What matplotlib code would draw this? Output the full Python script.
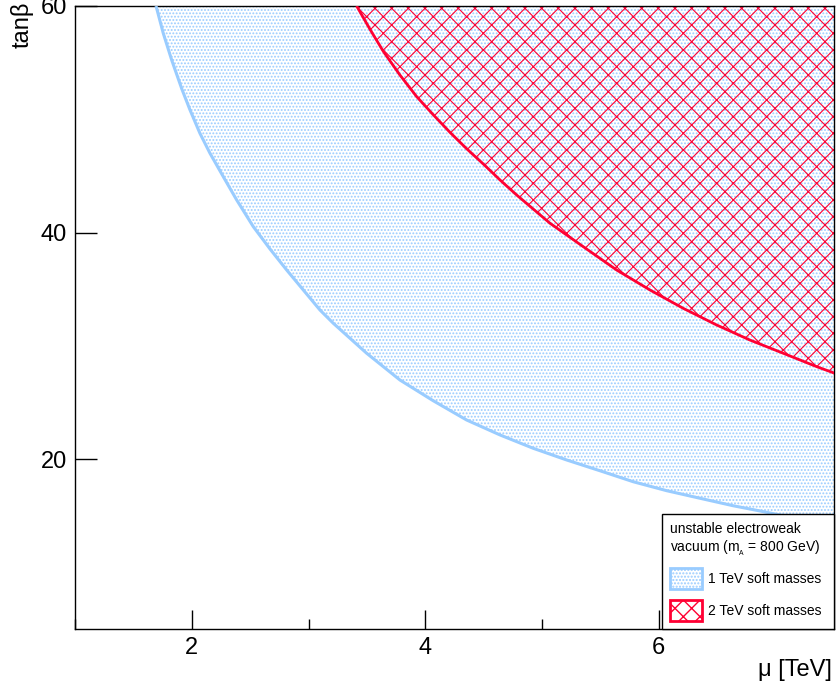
import matplotlib
matplotlib.use("Agg")
import matplotlib.pyplot as plt
from matplotlib.patches import Patch
from matplotlib.ticker import MultipleLocator, FixedLocator

plt.rcParams['font.family'] = ['Liberation Sans', 'DejaVu Sans']
plt.rcParams['mathtext.fontset'] = 'custom'
plt.rcParams['mathtext.rm'] = 'Liberation Sans'
plt.rcParams['mathtext.it'] = 'Liberation Sans:italic'

# Data
mu_1tev = [1.694, 1.756, 1.828, 1.914, 1.985, 2.070, 2.156, 2.270, 2.385, 2.527,
           2.670, 2.813, 2.955, 3.098, 3.212, 3.498, 3.783, 4.068, 4.354, 4.640,
           4.925, 5.211, 5.496, 5.781, 6.067, 6.353, 6.637, 6.866, 7.5]
tb_1tev = [60.0, 57.59, 55.23, 52.7, 50.82, 48.76, 47.0, 44.93, 42.87, 40.52,
           38.55, 36.69, 34.93, 33.16, 31.99, 29.34, 26.98, 25.15, 23.45, 22.13,
           20.95, 19.92, 18.97, 18.0, 17.21, 16.54, 15.88, 15.42, 14.1]
mu_2tev = [3.412, 3.526, 3.640, 3.783, 3.926, 4.068, 4.211, 4.354, 4.497, 4.640,
           4.783, 5.068, 5.353, 5.639, 5.924, 6.209, 6.495, 6.780, 7.066, 7.352, 7.508]
tb_2tev = [60.0, 57.95, 56.0, 53.9, 52.0, 50.4, 48.85, 47.4, 46.05, 44.64,
           43.31, 40.82, 38.75, 36.69, 34.93, 33.31, 31.84, 30.51, 29.34, 28.16, 27.57]

x_major = [2, 4, 6]
y_major = [20, 40, 60]
xlim = (1.0, 7.5)
ylim = (5, 60)

legend_title = "unstable electroweak\nvacuum (m$_{_\\mathrm{A}}$ = 800 GeV)"
labels = ["1 TeV soft masses", "2 TeV soft masses"]

blue = '#99ccff'
red = '#ff0033'

fig = plt.figure(figsize=(8.36, 6.91), dpi=100)
ax = fig.add_axes([75/836, 1-629/691, (834-75)/836, (629-6)/691])

with plt.rc_context({'hatch.linewidth': 0.9}):
    ax.fill_between(mu_1tev, tb_1tev, ylim[1], facecolor='none', edgecolor=blue,
                    hatch='.....', linewidth=0, zorder=1)
with plt.rc_context({'hatch.linewidth': 0.8}):
    ax.fill_between(mu_2tev, tb_2tev, ylim[1], facecolor='none', edgecolor=red,
                    hatch='xx', linewidth=0, zorder=2)
ax.plot(mu_1tev, tb_1tev, color=blue, lw=2.2, zorder=3, solid_capstyle='butt')
ax.plot(mu_2tev, tb_2tev, color=red, lw=2.0, zorder=3, solid_capstyle='butt')

ax.set_xlim(*xlim)
ax.set_ylim(*ylim)
ax.xaxis.set_major_locator(FixedLocator(x_major))
ax.xaxis.set_minor_locator(MultipleLocator(1))
ax.yaxis.set_major_locator(FixedLocator(y_major))
ax.tick_params(axis='both', which='both', direction='in', top=False, right=False,
               labelsize=17, width=1.0, color='black')
ax.tick_params(axis='x', which='major', length=14, pad=6)
ax.tick_params(axis='x', which='minor', length=7)
ax.tick_params(axis='y', which='major', length=16, pad=6)
for s in ax.spines.values():
    s.set_linewidth(1.0)

fig.text(832/836, 1-676/691, "μ [TeV]", ha='right', va='baseline', fontsize=17)
fig.text(22/836, 1-2/691, "tanβ", rotation=90, ha='center', va='top', fontsize=17)

with plt.rc_context({'hatch.linewidth': 0.9}):
    handles = [Patch(facecolor='none', edgecolor=blue, hatch='.....', linewidth=2),
               Patch(facecolor='none', edgecolor=red, hatch='xx', linewidth=2)]
leg_x0 = (662 - 75) / 759
leg = ax.legend(handles, labels, title=legend_title, loc='lower left',
                bbox_to_anchor=(leg_x0, 0.0, 1.0 - leg_x0, 0.2), mode='expand',
                fontsize=10, title_fontsize=10,
                frameon=True, fancybox=False, edgecolor='black', framealpha=1,
                handlelength=2.3, handleheight=2.0, labelspacing=0.75,
                borderpad=0.55, handletextpad=0.45, borderaxespad=0,
                alignment='left')
leg.get_frame().set_linewidth(1.0)
leg.set_zorder(5)

fig.savefig('out.png', dpi=100)
